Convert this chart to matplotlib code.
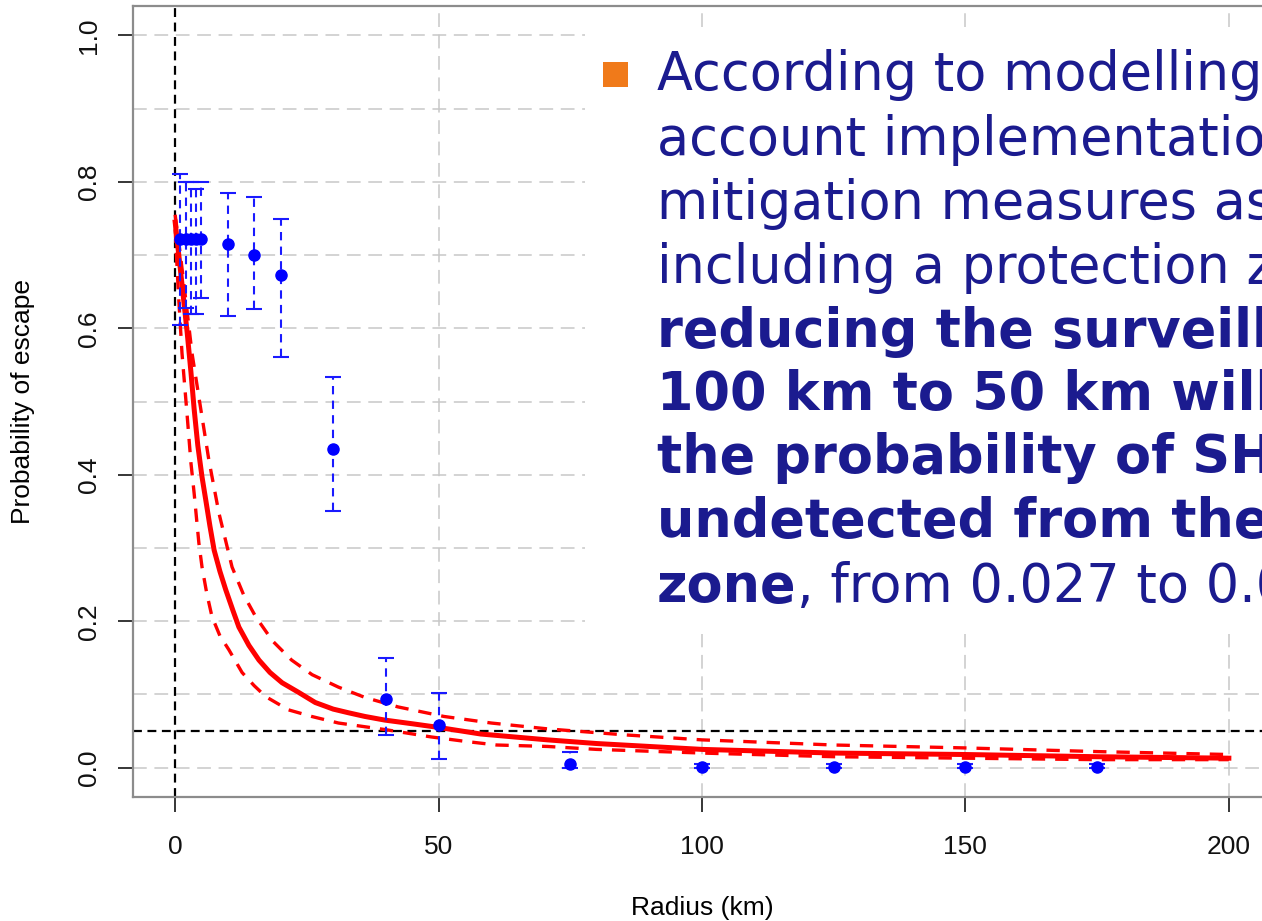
import matplotlib
matplotlib.use("Agg")
import matplotlib.pyplot as plt
from matplotlib.patches import Rectangle

W, H = 1262, 921

# observed probability of escape per radius (blue points + error bars)
radius_obs = [1, 2, 3, 4, 5, 10, 15, 20, 30, 40, 50, 75, 100, 125, 150, 175]
p_obs = [0.722, 0.722, 0.722, 0.722, 0.722, 0.715, 0.700, 0.673, 0.435,
         0.094, 0.058, 0.005, 0.001, 0.001, 0.001, 0.001]
p_obs_hi = [0.810, 0.800, 0.800, 0.790, 0.800, 0.784, 0.779, 0.749, 0.533,
            0.150, 0.102, 0.022, 0.005, 0.005, 0.005, 0.005]
p_obs_lo = [0.605, 0.628, 0.620, 0.620, 0.641, 0.617, 0.626, 0.561, 0.351,
            0.044, 0.012, 0.000, 0.000, 0.000, 0.000, 0.000]

# fitted curve (red solid)
fit_x = [0, 1, 2.3, 3.0, 3.6, 4.3, 5.1, 5.8, 6.6, 7.4, 8.5, 9.6, 11, 12.1, 14,
         15.9, 18, 20.3, 23.4, 26.6, 30, 32.9, 36, 39.8, 45, 50, 58, 70.7, 80,
         100, 125, 150, 175, 200]
fit_y = [0.745, 0.68, 0.593, 0.54, 0.49, 0.44, 0.397, 0.366, 0.33, 0.297,
         0.268, 0.243, 0.214, 0.192, 0.167, 0.147, 0.130, 0.116, 0.103, 0.089,
         0.080, 0.075, 0.070, 0.065, 0.060, 0.055, 0.046, 0.038, 0.033, 0.025,
         0.020, 0.018, 0.015, 0.013]

# confidence band (red dashed)
up_x = [0, 1, 2, 3.2, 4.9, 6.4, 8.3, 10.8, 13, 15.3, 18.5, 22.1, 26, 31,
        36, 42.3, 51, 60, 70.7, 85, 100, 125, 150, 175, 200]
up_y = [0.755, 0.70, 0.64, 0.566, 0.488, 0.42, 0.348, 0.274, 0.236, 0.206,
        0.173, 0.147, 0.127, 0.110, 0.096, 0.083, 0.070, 0.061, 0.053, 0.045,
        0.038, 0.031, 0.027, 0.022, 0.018]
lo_x = [0, 0.6, 1.3, 2.3, 3.0, 3.6, 4.5, 5.1, 6, 7, 8.5, 10.2, 12.7, 15,
        17.2, 21.5, 25.9, 31, 39.9, 48.6, 55, 61, 70.7, 80, 100, 125, 150,
        175, 200]
lo_y = [0.735, 0.65, 0.566, 0.479, 0.416, 0.375, 0.307, 0.274, 0.238, 0.206,
        0.180, 0.161, 0.130, 0.112, 0.097, 0.079, 0.070, 0.061, 0.052, 0.042,
        0.036, 0.031, 0.029, 0.025, 0.020, 0.015, 0.013, 0.011, 0.011]

x_ticks = [0, 50, 100, 150, 200]
y_ticks = [0.0, 0.2, 0.4, 0.6, 0.8, 1.0]
y_grid = [0.0, 0.1, 0.2, 0.3, 0.4, 0.5, 0.6, 0.7, 0.8, 0.9, 1.0]
x_grid = [50, 100, 150, 200]
threshold = 0.05

# slide text, cut off at the right edge as in the original
text_regular = [
    "According to modelling",
    "account implementation",
    "mitigation measures as",
    "including a protection zone",
]
text_bold = [
    "reducing the surveillance",
    "100 km to 50 km will",
    "the probability of SHB",
    "undetected from the",
]
last_bold = "zone"
last_regular = ", from 0.027 to 0.05"

navy = "#1b1b8f"
txt_size = 37.8

fig = plt.figure(figsize=(W / 100, H / 100), dpi=100)
ax_l, ax_r, ax_t, ax_b = 133, 1271, 6, 797
ax = fig.add_axes([ax_l / W, 1 - ax_b / H, (ax_r - ax_l) / W, (ax_b - ax_t) / H])
ax.set_xlim(-8, 208)
ax.set_ylim(-0.04, 1.04)

grid_kw = dict(color="#c8c8c8", lw=1.1, linestyle=(0, (9, 5)), zorder=1)
for g in y_grid:
    ax.axhline(g, **grid_kw)
for g in x_grid:
    ax.axvline(g, **grid_kw)

ax.axvline(0, color="black", lw=1.6, linestyle=(0, (4, 2.5)), zorder=2)
ax.axhline(threshold, color="black", lw=1.6, linestyle=(0, (4, 2.5)), zorder=2)

# error bars
yerr = [[p - l for p, l in zip(p_obs, p_obs_lo)],
        [h - p for p, h in zip(p_obs, p_obs_hi)]]
eb = ax.errorbar(radius_obs, p_obs, yerr=yerr, fmt="o", color="#0000ff",
                 ms=8, ecolor="#1a1aff", elinewidth=1.5, capsize=6,
                 capthick=1.5, zorder=4)
for lc in eb[2]:
    lc.set_linestyle((0, (4, 3)))

ax.plot(up_x, up_y, color="#ff0000", lw=2.4, linestyle=(0, (4, 3)), zorder=3)
ax.plot(lo_x, lo_y, color="#ff0000", lw=2.4, linestyle=(0, (4, 3)), zorder=3)
ax.plot(fit_x, fit_y, color="#ff0000", lw=3.6, zorder=3,
        solid_joinstyle="round")

for s in ["top", "bottom", "left", "right"]:
    ax.spines[s].set_color("#8c8c8c")
    ax.spines[s].set_linewidth(1.6)

ax.set_xticks(x_ticks)
ax.set_xticklabels([str(v) for v in x_ticks])
ax.set_yticks(y_ticks)
ax.set_yticklabels([f"{v:.1f}" for v in y_ticks], rotation=90, va="center")
ax.tick_params(axis="both", length=11, width=1.1, color="black",
               labelsize=19, labelcolor="#111111")
ax.tick_params(axis="x", pad=16)
ax.tick_params(axis="y", pad=12)
for lab in ax.get_xticklabels() + ax.get_yticklabels():
    lab.set_family(["Liberation Sans", "DejaVu Sans"])

ax.set_xlabel("Radius (km)", fontsize=19, family=["Liberation Sans", "DejaVu Sans"])
ax.set_ylabel("Probability of escape", fontsize=19, family=["Liberation Sans", "DejaVu Sans"])
ax.xaxis.label.set_va("center")
ax.yaxis.label.set_va("center")
ax.xaxis.set_label_coords(0.5, (ax_b - 908) / (ax_b - ax_t))
ax.yaxis.set_label_coords((23 - ax_l) / (ax_r - ax_l), 0.5)

# white text box of the slide on top of the plot
fig.patches.append(Rectangle((585 / W, 1 - 634 / H), 1 - 585 / W + 0.01, (634 - 28) / H,
                             transform=fig.transFigure, facecolor="white",
                             edgecolor="none", zorder=2))
fig.patches.append(Rectangle((603 / W, 1 - 87 / H), 25 / W, 25 / H,
                             transform=fig.transFigure, facecolor="#f07a1a",
                             edgecolor="none", zorder=3))

x0 = 657 / W
baselines = [90, 155, 219, 283, 347, 410, 473, 537]
for txt, yb in zip(text_regular + text_bold, baselines):
    bold = txt in text_bold
    fig.text(x0, 1 - yb / H, txt, fontsize=txt_size, color=navy,
             fontweight="bold" if bold else "normal", family="DejaVu Sans",
             va="baseline", ha="left", zorder=4)

t = fig.text(x0, 1 - 602 / H, last_bold, fontsize=txt_size, color=navy,
             fontweight="bold", family="DejaVu Sans", va="baseline", zorder=4)
fig.canvas.draw()
bb = t.get_window_extent()
fig.text(bb.x1 / W, 1 - 602 / H, last_regular, fontsize=txt_size, color=navy,
         family="DejaVu Sans", va="baseline", zorder=4)

fig.savefig("out.png", dpi=100)
